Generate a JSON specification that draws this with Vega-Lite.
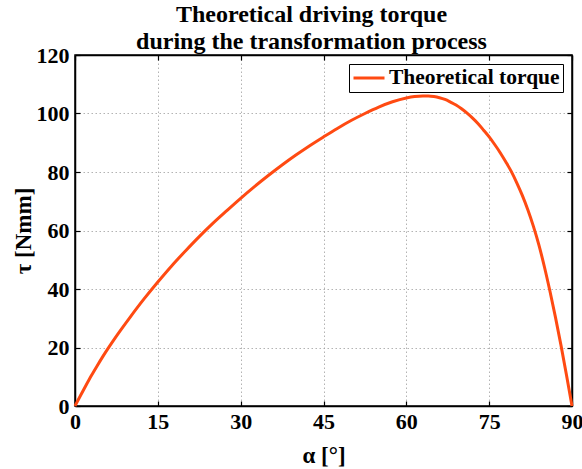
{
  "$schema": "https://vega.github.io/schema/vega-lite/v6.json",
  "autosize": "none",
  "width": 497,
  "height": 351,
  "padding": {"left": 75, "top": 55, "right": 10, "bottom": 63},
  "background": "white",
  "title": {
    "text": ["Theoretical driving torque", "during the transformation process"],
    "font": "Liberation Serif",
    "fontSize": 24,
    "fontWeight": "bold",
    "color": "black",
    "anchor": "middle",
    "lineHeight": 27,
    "offset": -10,
    "dx": -12
  },
  "config": {
    "view": {"stroke": "black", "strokeWidth": 1.5},
    "axis": {
      "labelFont": "Liberation Serif",
      "labelFontSize": 22,
      "labelFontWeight": "bold",
      "labelColor": "black",
      "titleFont": "Liberation Serif",
      "titleFontSize": 23,
      "titleFontWeight": "bold",
      "titleColor": "black",
      "domainColor": "black",
      "domainWidth": 1.5,
      "tickColor": "black",
      "tickWidth": 1.2,
      "tickSize": -5,
      "gridColor": "#a0a0a0",
      "gridDash": [1.5, 2.5],
      "gridWidth": 1,
      "gridOpacity": 0.8
    }
  },
  "data": {
    "values": [
      {"alpha": 0, "tau": 0},
      {"alpha": 1, "tau": 3.6},
      {"alpha": 2, "tau": 7.1},
      {"alpha": 3, "tau": 10.5},
      {"alpha": 4, "tau": 13.7},
      {"alpha": 5, "tau": 16.8},
      {"alpha": 7.5, "tau": 23.9},
      {"alpha": 10, "tau": 30.4},
      {"alpha": 12.5, "tau": 36.6},
      {"alpha": 15, "tau": 42.4},
      {"alpha": 17.5, "tau": 47.9},
      {"alpha": 20, "tau": 53.0},
      {"alpha": 22.5, "tau": 57.9},
      {"alpha": 25, "tau": 62.5},
      {"alpha": 27.5, "tau": 66.8},
      {"alpha": 30, "tau": 71.0},
      {"alpha": 32.5, "tau": 75.0},
      {"alpha": 35, "tau": 78.8},
      {"alpha": 37.5, "tau": 82.4},
      {"alpha": 40, "tau": 85.8},
      {"alpha": 42.5, "tau": 89.0},
      {"alpha": 45, "tau": 92.0},
      {"alpha": 47.5, "tau": 94.9},
      {"alpha": 50, "tau": 97.6},
      {"alpha": 52.5, "tau": 100.0},
      {"alpha": 55, "tau": 102.2},
      {"alpha": 57.5, "tau": 104.0},
      {"alpha": 60, "tau": 105.3},
      {"alpha": 61.5, "tau": 105.8},
      {"alpha": 63, "tau": 106.0},
      {"alpha": 64, "tau": 106.0},
      {"alpha": 65, "tau": 105.8},
      {"alpha": 66, "tau": 105.4},
      {"alpha": 67, "tau": 104.8},
      {"alpha": 68, "tau": 103.9},
      {"alpha": 69, "tau": 102.9},
      {"alpha": 70, "tau": 101.6},
      {"alpha": 71, "tau": 100.1},
      {"alpha": 72, "tau": 98.4},
      {"alpha": 73, "tau": 96.5},
      {"alpha": 74, "tau": 94.3},
      {"alpha": 75, "tau": 92.0},
      {"alpha": 76, "tau": 89.4},
      {"alpha": 77, "tau": 86.6},
      {"alpha": 78, "tau": 83.5},
      {"alpha": 79, "tau": 80.2},
      {"alpha": 80, "tau": 76.3},
      {"alpha": 81, "tau": 72.0},
      {"alpha": 82, "tau": 67.1},
      {"alpha": 83, "tau": 61.5},
      {"alpha": 84, "tau": 55.1},
      {"alpha": 85, "tau": 47.6},
      {"alpha": 86, "tau": 39.3},
      {"alpha": 87, "tau": 30.4},
      {"alpha": 88, "tau": 20.8},
      {"alpha": 89, "tau": 10.6},
      {"alpha": 90, "tau": 0}
    ]
  },
  "layer": [
    {
      "mark": {"type": "line", "strokeWidth": 3, "interpolate": "monotone"},
      "encoding": {
        "x": {
          "field": "alpha", "type": "quantitative",
          "scale": {"domain": [0, 90], "nice": false, "zero": false},
          "axis": {"values": [0, 15, 30, 45, 60, 75, 90], "title": "α [°]", "labelPadding": 10, "titlePadding": 12, "labelFlush": false}
        },
        "y": {
          "field": "tau", "type": "quantitative",
          "scale": {"domain": [0, 120], "nice": false},
          "axis": {"values": [0, 20, 40, 60, 80, 100, 120], "title": "τ [Nmm]", "labelPadding": 11, "titlePadding": 1, "labelFlush": false}
        },
        "color": {
          "datum": "Theoretical torque",
          "scale": {"range": ["#ff4a12"]},
          "legend": {
            "title": null,
            "orient": "top-right",
            "offset": 9,
            "symbolType": "stroke",
            "symbolSize": 961,
            "symbolStrokeWidth": 3,
            "clipHeight": 22,
            "labelFont": "Liberation Serif",
            "labelFontSize": 21.5,
            "labelFontWeight": "bold",
            "labelColor": "black",
            "strokeColor": "black",
            "fillColor": "white",
            "padding": 3,
            "labelOffset": 3,
            "labelLimit": 300
          }
        }
      }
    },
    {
      "mark": {"type": "line", "strokeOpacity": 0},
      "encoding": {
        "x": {
          "field": "alpha", "type": "quantitative",
          "axis": {"orient": "top", "values": [0, 15, 30, 45, 60, 75, 90], "labels": false, "title": null, "grid": false}
        },
        "y": {
          "field": "tau", "type": "quantitative",
          "axis": {"orient": "right", "values": [0, 20, 40, 60, 80, 100, 120], "labels": false, "title": null, "grid": false}
        }
      }
    }
  ],
  "resolve": {"axis": {"x": "independent", "y": "independent"}}
}
